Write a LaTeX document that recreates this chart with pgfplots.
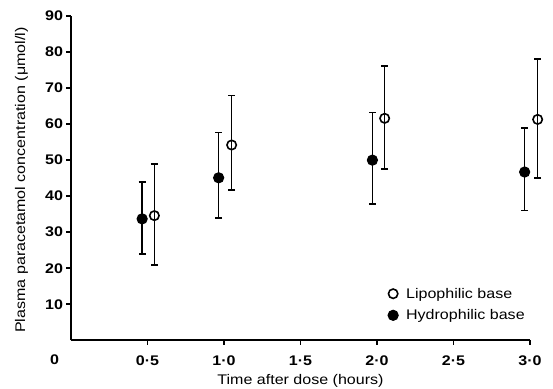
\documentclass[border=0pt]{standalone}
\usepackage{pgfplots}
\pgfplotsset{compat=1.18}
\usepackage{fontspec}
\setmainfont{Liberation Sans}[FakeStretch=1.15]
\pgfplotstableread{
x y ep em
0.465 33.7 10.3 9.8
0.965 45.1 12.6 11.1
1.97 50.0 13.2 12.2
2.965 46.7 12.3 10.7
}\hydro
\pgfplotstableread{
x y ep em
0.545 34.6 14.3 13.7
1.05 54.2 13.7 12.5
2.05 61.6 14.6 14.1
3.05 61.3 16.7 16.2
}\lipo
\begin{document}
\begin{tikzpicture}
\useasboundingbox (-71bp,-48.7bp) rectangle (482bp,340.3bp);
\begin{axis}[
  scale only axis, width=459bp, height=324.3bp,
  xmin=0, xmax=3, ymin=0, ymax=90,
  axis lines*=left,
  axis line style={line width=1.8bp, black},
  clip=false,
  tick align=outside, major tick length=4.5bp,
  tick style={line width=1.6bp, black},
  xtick={0.5,1,1.5,2,2.5,3},
  xticklabels={0·5,1·0,1·5,2·0,2·5,3·0},
  ytick={10,20,...,90},
  /pgf/number format/assume math mode=true,
  ticklabel style={font=\fontsize{14}{16}\selectfont\bfseries},
  xticklabel style={anchor=base, yshift=-21bp},
  xlabel={Time after dose (hours)},
  ylabel={Plasma paracetamol concentration (μmol/l)},
  label style={font=\fontsize{14}{16}\selectfont},
  xlabel style={at={(axis description cs:0.5,0)}, anchor=base, yshift=-44.2bp},
  ylabel style={at={(axis description cs:-0.093,0.494)}, anchor=south, inner sep=0pt, rotate=0},
  legend style={draw=none, fill=none, font=\fontsize{14}{16}\selectfont,
    at={(axis cs:2.052,9.93)}, anchor=west, row sep=6bp},
  legend cell align=left,
  legend image code/.code={\draw[#1] plot coordinates {(0bp,0bp)}; \path[draw=none,fill=none] (0bp,0bp) -- (11bp,0bp);},
  error bars/error bar style={line width=1.6bp, black},
  error bars/error mark options={rotate=90, mark size=3.4bp, line width=1.6bp, black},
]
\addplot[only marks, mark=o, mark size=4.7bp, line width=1.6bp, black, mark options={fill=white},
  error bars/.cd, y dir=both, y explicit]
  table[x=x, y=y, y error plus=ep, y error minus=em] {\lipo};
\addlegendentry{Lipophilic base}
\addplot[only marks, mark=*, mark size=5bp, line width=1.2bp, black,
  error bars/.cd, y dir=both, y explicit]
  table[x=x, y=y, y error plus=ep, y error minus=em] {\hydro};
\addlegendentry{Hydrophilic base}
\node[font=\fontsize{14}{16}\selectfont\bfseries, anchor=base, yshift=-24bp] at (axis cs:-0.107,0) {0};
\end{axis}
\end{tikzpicture}
\end{document}
